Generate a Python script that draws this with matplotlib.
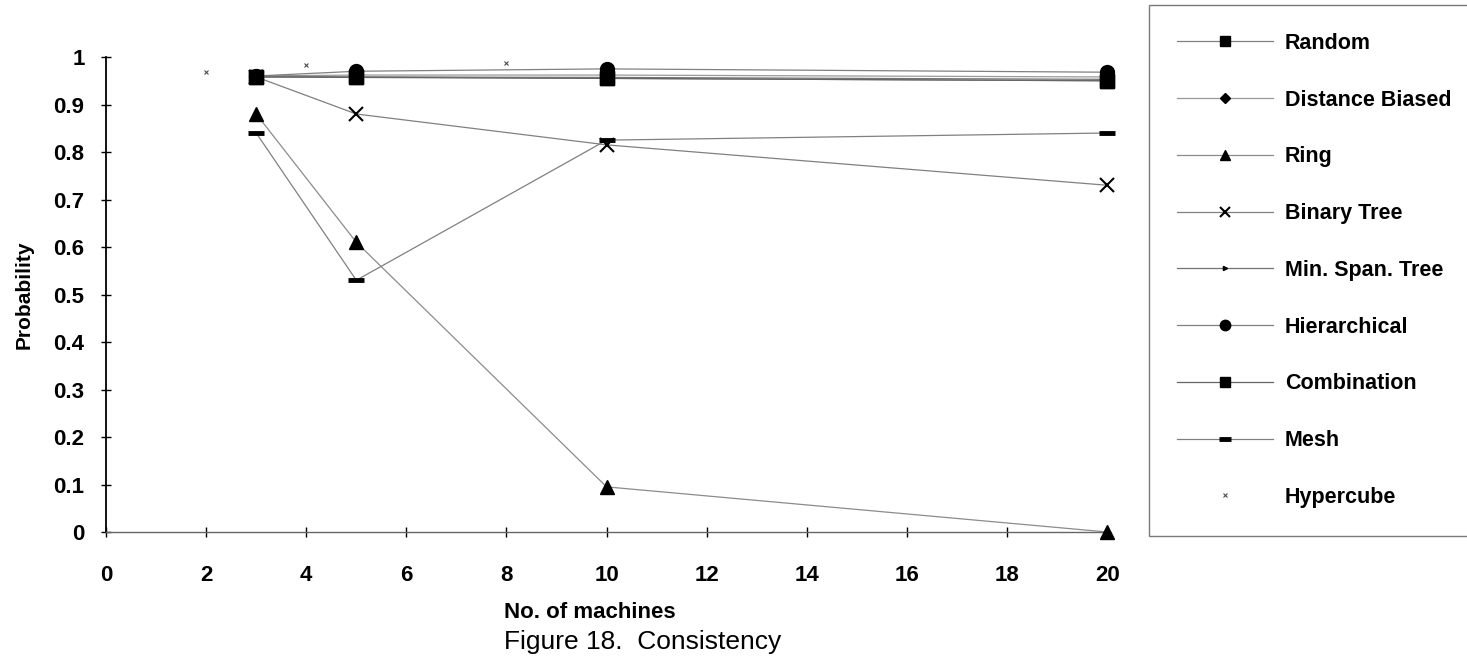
import matplotlib
matplotlib.use("Agg")
import matplotlib.pyplot as plt

plt.rcParams['font.family'] = ['Liberation Sans', 'DejaVu Sans']

# machines on x axis
machines = [3, 5, 10, 20]
hyper_machines = [2, 4, 8]

random_p = [0.958, 0.958, 0.955, 0.950]
dist_biased = [0.960, 0.962, 0.962, 0.958]
ring = [0.88, 0.61, 0.095, 0.0]
binary_tree = [0.958, 0.88, 0.815, 0.73]
min_span_tree = [0.960, 0.958, 0.957, 0.953]
hierarchical = [0.960, 0.970, 0.975, 0.968]
combination = [0.958, 0.957, 0.955, 0.950]
mesh = [0.84, 0.53, 0.825, 0.84]
hypercube = [0.968, 0.983, 0.987]

fig = plt.figure(figsize=(14.67, 6.66), dpi=100)
ax = fig.add_axes([0.0723, 0.2012, 0.6824, 0.7132])

lw = 0.9
ax.plot(machines, random_p, color='0.5', lw=lw, marker='s', ms=10, mfc='black', mec='black',
        label='Random', clip_on=False, zorder=3)
ax.plot(machines, dist_biased, color='0.6', lw=lw, marker='D', ms=7, mfc='black', mec='black',
        label='Distance Biased', clip_on=False, zorder=2)
ax.plot(machines, ring, color='0.55', lw=lw, marker='^', ms=10, mfc='black', mec='black',
        label='Ring', clip_on=False, zorder=3)
ax.plot(machines, binary_tree, color='0.5', lw=lw, marker='x', ms=10, mew=1.5, mfc='black', mec='black',
        label='Binary Tree', clip_on=False, zorder=2)
ax.plot(machines, min_span_tree, color='0.45', lw=lw, marker='>', ms=4, mfc='black', mec='black',
        label='Min. Span. Tree', clip_on=False, zorder=2)
ax.plot(machines, hierarchical, color='0.5', lw=lw, marker='o', ms=10, mfc='black', mec='black',
        label='Hierarchical', clip_on=False, zorder=3)
ax.plot(machines, combination, color='0.4', lw=lw, marker='s', ms=10, mfc='black', mec='black',
        label='Combination', clip_on=False, zorder=3)
ax.plot(machines, mesh, color='0.5', lw=lw, marker='_', ms=11, mew=3.5, mfc='black', mec='black',
        label='Mesh', clip_on=False, zorder=3)
ax.plot(hyper_machines, hypercube, ls='none', marker='x', ms=3, mew=0.8, color='0.3',
        label='Hypercube', clip_on=False, zorder=3)

ax.set_xlim(0, 20)
ax.set_ylim(0, 1)
ax.set_xticks(range(0, 21, 2))
ax.set_yticks([i / 10 for i in range(11)])
ax.set_yticklabels(['0', '0.1', '0.2', '0.3', '0.4', '0.5', '0.6', '0.7', '0.8', '0.9', '1'])

for s in ['top', 'right']:
    ax.spines[s].set_visible(False)
ax.spines['left'].set_color('black')
ax.spines['left'].set_linewidth(1.3)
ax.spines['bottom'].set_color('0.4')
ax.spines['bottom'].set_linewidth(1.0)

ax.tick_params(axis='both', direction='inout', length=7, width=1, colors='black', labelsize=16)
ax.tick_params(axis='x', pad=20)
ax.tick_params(axis='y', pad=12)
for t in ax.get_xticklabels() + ax.get_yticklabels():
    t.set_fontweight('bold')

ax.set_ylabel('Probability', fontsize=15, fontweight='bold', labelpad=14)

fig.text(504 / 1467, 1 - 612 / 666, 'No. of machines', fontsize=16, fontweight='bold',
         ha='left', va='center')
fig.text(504 / 1467, 1 - 642 / 666, 'Figure 18.  Consistency', fontsize=19,
         ha='left', va='center')

leg = fig.legend(loc='upper left', bbox_to_anchor=(1149 / 1467, 0.0, 0.3, 1 - 5 / 666),
                 mode='expand', fontsize=15.5, frameon=True, fancybox=False,
                 markerscale=0.75, handlelength=4.45, handletextpad=0.55,
                 labelspacing=1.66, borderpad=1.3, borderaxespad=0)
leg.get_frame().set_edgecolor('0.35')
leg.get_frame().set_linewidth(1.0)
for t in leg.get_texts():
    t.set_fontweight('bold')

plt.savefig('out.png', dpi=100)
